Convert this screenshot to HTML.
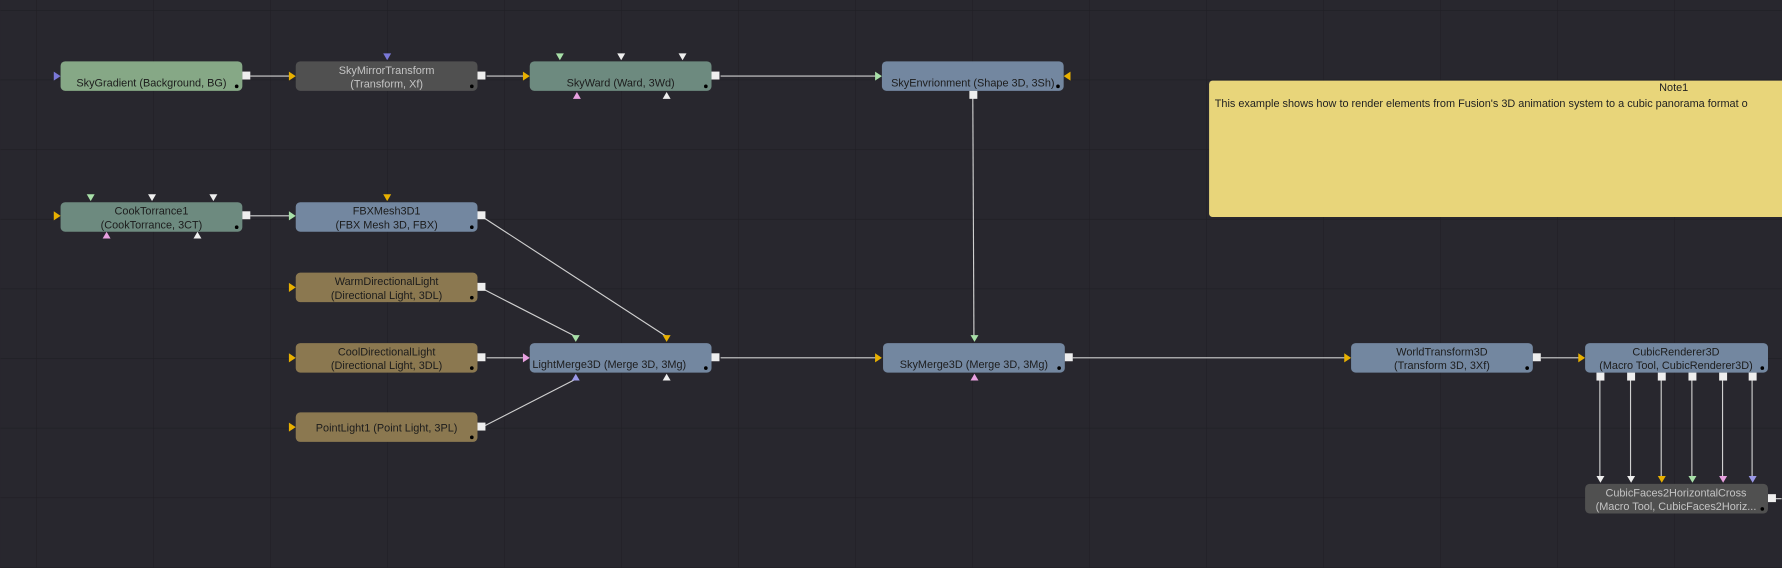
<!DOCTYPE html>
<html><head><meta charset="utf-8"><style>
html,body{margin:0;padding:0;background:#28272e;overflow:hidden}
svg{display:block}
text{font-family:"Liberation Sans",sans-serif;font-size:9.6px}
</style></head><body>
<svg width="1782" height="568" viewBox="0 0 1568 500" xmlns="http://www.w3.org/2000/svg">
<defs>
<pattern id="g" x="31.6" y="8.8" width="103" height="61.3" patternUnits="userSpaceOnUse">
<path d="M0 0V61.3M0 0H103" stroke="#1f1e24" stroke-width="1" fill="none"/>
</pattern>
</defs>
<rect width="1568" height="500" fill="#28272e"/>
<rect width="1568" height="500" fill="url(#g)"/>

<!-- connectors -->
<g stroke="#d0d0d0" stroke-width="1" fill="none">
<line x1="220" y1="67" x2="256" y2="67"/>
<line x1="428" y1="67" x2="462" y2="67"/>
<line x1="634" y1="67" x2="772" y2="67"/>
<line x1="856" y1="86" x2="857" y2="296"/>
<line x1="220" y1="190" x2="256" y2="190"/>
<line x1="426" y1="192" x2="586" y2="296"/>
<line x1="426" y1="255" x2="506" y2="296"/>
<line x1="428" y1="315" x2="460" y2="315"/>
<line x1="426" y1="375" x2="506" y2="334"/>
<line x1="634" y1="315" x2="772" y2="315"/>
<line x1="944" y1="315" x2="1184" y2="315"/>
<line x1="1356" y1="315" x2="1390" y2="315"/>
<line x1="1408" y1="332" x2="1408" y2="422"/>
<line x1="1435" y1="332" x2="1435" y2="422"/>
<line x1="1462" y1="332" x2="1462" y2="422"/>
<line x1="1489" y1="332" x2="1489" y2="422"/>
<line x1="1516" y1="332" x2="1516" y2="422"/>
<line x1="1542" y1="332" x2="1542" y2="422"/>
<line x1="1562" y1="439" x2="1568" y2="439"/>
</g>

<!-- note -->
<rect x="1064" y="71" width="520" height="120" rx="3" fill="#e8d57a"/>
<text x="1473" y="80" text-anchor="middle" fill="#222">Note1</text>
<text x="1069" y="94" fill="#222">This example shows how to render elements from Fusion's 3D animation system to a cubic panorama format o</text>

<!-- nodes -->
<g>
<rect x="53" y="54" width="160" height="26" rx="4" fill="#86a886"/>
<text x="133" y="76" text-anchor="middle" fill="#1c1c1c">SkyGradient  (Background, BG)</text>
<rect x="260" y="54" width="160" height="26" rx="4" fill="#505050"/>
<text x="340" y="65" text-anchor="middle" fill="#c4c4c4">SkyMirrorTransform</text>
<text x="340" y="77" text-anchor="middle" fill="#c4c4c4">(Transform, Xf)</text>
<rect x="466" y="54" width="160" height="26" rx="4" fill="#6d8a7f"/>
<text x="546" y="76" text-anchor="middle" fill="#1c1c1c">SkyWard  (Ward, 3Wd)</text>
<rect x="776" y="54" width="160" height="26" rx="4" fill="#7387a0"/>
<text x="856" y="76" text-anchor="middle" fill="#1c1c1c">SkyEnvrionment  (Shape 3D, 3Sh)</text>

<rect x="53" y="178" width="160" height="26" rx="4" fill="#6d8a7f"/>
<text x="133" y="189" text-anchor="middle" fill="#1c1c1c">CookTorrance1</text>
<text x="133" y="201" text-anchor="middle" fill="#1c1c1c">(CookTorrance, 3CT)</text>
<rect x="260" y="178" width="160" height="26" rx="4" fill="#7387a0"/>
<text x="340" y="189" text-anchor="middle" fill="#1c1c1c">FBXMesh3D1</text>
<text x="340" y="201" text-anchor="middle" fill="#1c1c1c">(FBX Mesh 3D, FBX)</text>
<rect x="260" y="240" width="160" height="26" rx="4" fill="#8b7850"/>
<text x="340" y="251" text-anchor="middle" fill="#1c1c1c">WarmDirectionalLight</text>
<text x="340" y="263" text-anchor="middle" fill="#1c1c1c">(Directional Light, 3DL)</text>
<rect x="260" y="302" width="160" height="26" rx="4" fill="#8b7850"/>
<text x="340" y="313" text-anchor="middle" fill="#1c1c1c">CoolDirectionalLight</text>
<text x="340" y="325" text-anchor="middle" fill="#1c1c1c">(Directional Light, 3DL)</text>
<rect x="260" y="363" width="160" height="26" rx="4" fill="#8b7850"/>
<text x="340" y="380" text-anchor="middle" fill="#1c1c1c">PointLight1  (Point Light, 3PL)</text>

<rect x="466" y="302" width="160" height="26" rx="4" fill="#7387a0"/>
<text x="536" y="324" text-anchor="middle" fill="#1c1c1c">LightMerge3D  (Merge 3D, 3Mg)</text>
<rect x="777" y="302" width="160" height="26" rx="4" fill="#7387a0"/>
<text x="857" y="324" text-anchor="middle" fill="#1c1c1c">SkyMerge3D  (Merge 3D, 3Mg)</text>
<rect x="1189" y="302" width="160" height="26" rx="4" fill="#7387a0"/>
<text x="1269" y="313" text-anchor="middle" fill="#1c1c1c">WorldTransform3D</text>
<text x="1269" y="325" text-anchor="middle" fill="#1c1c1c">(Transform 3D, 3Xf)</text>
<rect x="1395" y="302" width="161" height="26" rx="4" fill="#7387a0"/>
<text x="1475" y="313" text-anchor="middle" fill="#1c1c1c">CubicRenderer3D</text>
<text x="1475" y="325" text-anchor="middle" fill="#1c1c1c">(Macro Tool, CubicRenderer3D)</text>
<rect x="1395" y="426" width="161" height="26" rx="4" fill="#505050"/>
<text x="1475" y="437" text-anchor="middle" fill="#c4c4c4">CubicFaces2HorizontalCross</text>
<text x="1475" y="449" text-anchor="middle" fill="#c4c4c4">(Macro Tool, CubicFaces2Horiz...</text>
</g>

<!-- dots -->
<g fill="#000">
<circle cx="208" cy="76" r="1.6"/><circle cx="415" cy="76" r="1.6"/><circle cx="621" cy="76" r="1.6"/><circle cx="931" cy="76" r="1.6"/>
<circle cx="208" cy="200" r="1.6"/><circle cx="415" cy="200" r="1.6"/><circle cx="415" cy="262" r="1.6"/><circle cx="415" cy="324" r="1.6"/><circle cx="415" cy="385" r="1.6"/>
<circle cx="621" cy="324" r="1.6"/><circle cx="932" cy="324" r="1.6"/><circle cx="1344" cy="324" r="1.6"/><circle cx="1551" cy="324" r="1.6"/><circle cx="1551" cy="448" r="1.6"/>
</g>

<!-- output squares -->
<g fill="#eee">
<rect x="213" y="63" width="7" height="7"/><rect x="420" y="63" width="7" height="7"/><rect x="626" y="63" width="7" height="7"/>
<rect x="853" y="80" width="7" height="7"/>
<rect x="213" y="186" width="7" height="7"/><rect x="420" y="186" width="7" height="7"/><rect x="420" y="249" width="7" height="7"/>
<rect x="420" y="311" width="7" height="7"/><rect x="420" y="372" width="7" height="7"/>
<rect x="626" y="311" width="7" height="7"/><rect x="937" y="311" width="7" height="7"/><rect x="1349" y="311" width="7" height="7"/>
<rect x="1405" y="328" width="7" height="7"/><rect x="1432" y="328" width="7" height="7"/><rect x="1459" y="328" width="7" height="7"/>
<rect x="1486" y="328" width="7" height="7"/><rect x="1513" y="328" width="7" height="7"/><rect x="1539" y="328" width="7" height="7"/>
<rect x="1556" y="435" width="7" height="7"/>
</g>

<!-- input triangles: right-pointing -->
<g>
<path d="M47 63l6 4-6 4z" fill="#7a78d8"/>
<path d="M254 63l6 4-6 4z" fill="#e8b000"/>
<path d="M460 63l6 4-6 4z" fill="#e8b000"/>
<path d="M770 63l6 4-6 4z" fill="#a8e0a8"/>
<path d="M47 186l6 4-6 4z" fill="#e8b000"/>
<path d="M254 186l6 4-6 4z" fill="#a8e0a8"/>
<path d="M254 249l6 4-6 4z" fill="#e8b000"/>
<path d="M254 311l6 4-6 4z" fill="#e8b000"/>
<path d="M254 372l6 4-6 4z" fill="#e8b000"/>
<path d="M460 311l6 4-6 4z" fill="#e8a0e0"/>
<path d="M770 311l6 4-6 4z" fill="#e8b000"/>
<path d="M1183 311l6 4-6 4z" fill="#e8b000"/>
<path d="M1389 311l6 4-6 4z" fill="#e8b000"/>
<!-- left-pointing -->
<path d="M942 63l-6 4 6 4z" fill="#e8b000"/>
<!-- down-pointing -->
<path d="M337 47h7l-3.5 6z" fill="#7a78d8"/>
<path d="M489 47h7l-3.5 6z" fill="#a8e0a8"/>
<path d="M543 47h7l-3.5 6z" fill="#eee"/>
<path d="M597 47h7l-3.5 6z" fill="#eee"/>
<path d="M76 171h7l-3.5 6z" fill="#a8e0a8"/>
<path d="M130 171h7l-3.5 6z" fill="#eee"/>
<path d="M184 171h7l-3.5 6z" fill="#eee"/>
<path d="M337 171h7l-3.5 6z" fill="#e8b000"/>
<path d="M503 295h7l-3.5 6z" fill="#a8e0a8"/>
<path d="M583 295h7l-3.5 6z" fill="#e8b000"/>
<path d="M854 295h7l-3.5 6z" fill="#a8e0a8"/>
<path d="M1405 419h7l-3.5 6z" fill="#eee"/>
<path d="M1432 419h7l-3.5 6z" fill="#eee"/>
<path d="M1459 419h7l-3.5 6z" fill="#e8b000"/>
<path d="M1486 419h7l-3.5 6z" fill="#a8e0a8"/>
<path d="M1513 419h7l-3.5 6z" fill="#e8a0e0"/>
<path d="M1539 419h7l-3.5 6z" fill="#9a98e8"/>
<!-- up-pointing -->
<path d="M504 87h7l-3.5-6z" fill="#e8a0e0"/>
<path d="M583 87h7l-3.5-6z" fill="#eee"/>
<path d="M90 210h7l-3.5-6z" fill="#e8a0e0"/>
<path d="M170 210h7l-3.5-6z" fill="#eee"/>
<path d="M503 335h7l-3.5-6z" fill="#9a98e8"/>
<path d="M583 335h7l-3.5-6z" fill="#eee"/>
<path d="M854 335h7l-3.5-6z" fill="#e8a0e0"/>
</g>
</svg>
</body></html>
